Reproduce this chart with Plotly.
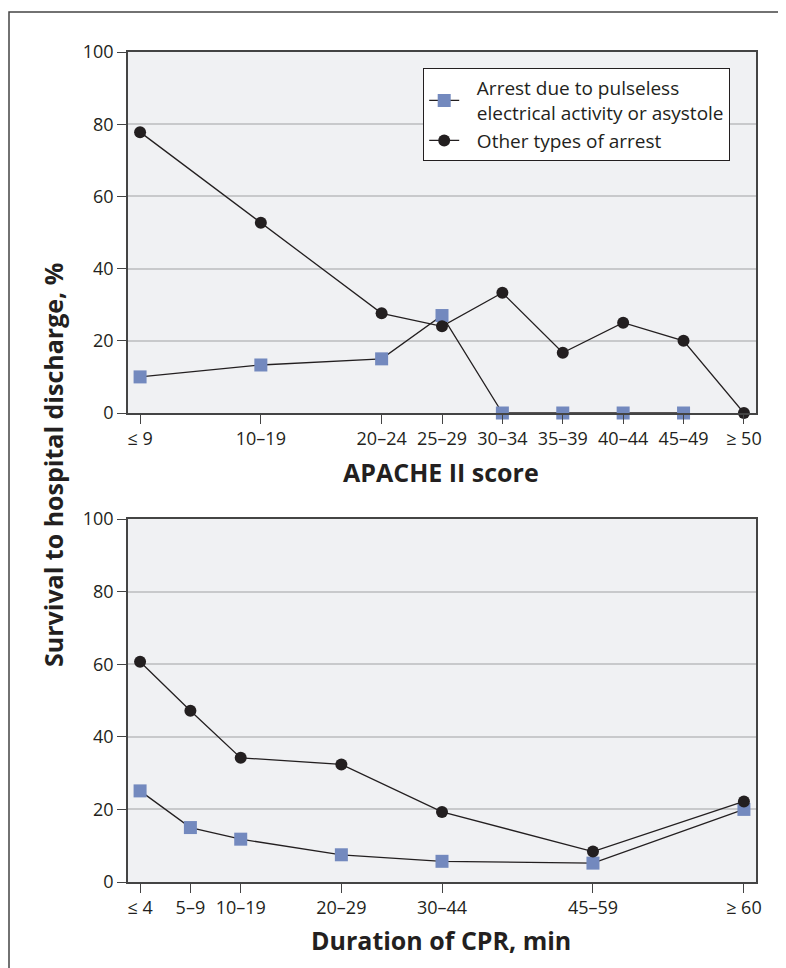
import plotly.graph_objects as go

# ---- data ----
apache_labels = ["≤ 9", "10–19", "20–24", "25–29", "30–34", "35–39", "40–44", "45–49", "≥ 50"]
apache_pos = [0, 2, 4, 5, 6, 7, 8, 9, 10]
apache_pea = [10, 13.3, 15, 27, 0, 0, 0, 0, None]
apache_other = [77.8, 52.7, 27.6, 24, 33.3, 16.7, 25, 20, 0]

cpr_labels = ["≤ 4", "5–9", "10–19", "20–29", "30–44", "45–59", "≥ 60"]
cpr_pos = [0, 1, 2, 4, 6, 9, 12]
cpr_pea = [25.1, 15, 11.8, 7.5, 5.7, 5.2, 20]
cpr_other = [60.7, 47.2, 34.2, 32.4, 19.3, 8.4, 22.2]

PAD = "\u2002\u2009"
name_pea = PAD + "Arrest due to pulseless<br>" + PAD + "electrical activity or asystole"
name_other = PAD + "Other types of arrest"

W, H = 786, 968
OFF = 8  # page body margin
ML, MR, MT, MB = 10, 10, 25, 10
PW, PH = W - ML - MR, H - MT - MB


def px(x):
    return (x - OFF - ML) / PW


def py(y):
    return 1 - (y - OFF - MT) / PH


INK = "#231F20"
BLUE = "#7389BE"
FONT = "Open Sans"

fig = go.Figure()


def add(xs, ys, xa, ya, show):
    fig.add_trace(go.Scatter(x=xs, y=ys[0], xaxis=xa, yaxis=ya, mode="lines+markers",
                             name=name_pea, showlegend=show, cliponaxis=False,
                             line=dict(color=INK, width=1.3),
                             marker=dict(symbol="square", size=13, color=BLUE,
                                         line=dict(width=0))))
    fig.add_trace(go.Scatter(x=xs, y=ys[1], xaxis=xa, yaxis=ya, mode="lines+markers",
                             name=name_other, showlegend=show, cliponaxis=False,
                             line=dict(color=INK, width=1.3),
                             marker=dict(symbol="circle", size=12, color=INK,
                                         line=dict(width=0))))


add(apache_pos, (apache_pea, apache_other), "x", "y", True)
add(cpr_pos, (cpr_pea, cpr_other), "x2", "y2", False)

xdom = [px(128), px(756)]
common_axis = dict(showline=True, mirror=True, linecolor="#444", linewidth=1.5,
                   ticks="outside", ticklen=9, tickwidth=1.3, tickcolor="#444",
                   tickfont=dict(family=FONT, size=18, color=INK), zeroline=False,
                   automargin=False)

fig.update_layout(
    width=W, height=H,
    margin=dict(l=ML, r=MR, t=MT, b=MB, autoexpand=False),
    paper_bgcolor="white", plot_bgcolor="#F0F1F3",
    font=dict(family=FONT, color=INK),
    xaxis=dict(domain=xdom, anchor="y", range=[-0.2, 10.2], tickmode="array",
               tickvals=apache_pos, ticktext=apache_labels, showgrid=False, **common_axis),
    yaxis=dict(domain=[py(413), py(52)], anchor="x", range=[0, 100],
               tickvals=[0, 20, 40, 60, 80, 100], showgrid=True, gridcolor="#C8C9CB",
               gridwidth=1.5, **common_axis),
    xaxis2=dict(domain=xdom, anchor="y2", range=[-0.24, 12.24], tickmode="array",
                tickvals=cpr_pos, ticktext=cpr_labels, showgrid=False, **common_axis),
    yaxis2=dict(domain=[py(882), py(519)], anchor="x2", range=[0, 100],
                tickvals=[0, 20, 40, 60, 80, 100], showgrid=True, gridcolor="#C8C9CB",
                gridwidth=1.5, **common_axis),
    legend=dict(x=px(423), y=py(68), xanchor="left", yanchor="top",
                bgcolor="white", bordercolor=INK, borderwidth=1.2,
                font=dict(family=FONT, size=19, color=INK), itemwidth=30,
                tracegroupgap=2),
    showlegend=True,
)

title_font = dict(family=FONT, size=25, color=INK)
fig.add_annotation(text="<b>APACHE II score</b>", x=px(441), y=py(472), xref="paper",
                   yref="paper", xanchor="center", yanchor="middle", showarrow=False,
                   font=title_font)
fig.add_annotation(text="<b>Duration of CPR, min</b>", x=px(441), y=py(940), xref="paper",
                   yref="paper", xanchor="center", yanchor="middle", showarrow=False,
                   font=title_font)
fig.add_annotation(text="<b>Survival to hospital discharge, %</b>", x=px(53), y=py(465),
                   xref="paper", yref="paper", xanchor="center", yanchor="middle",
                   showarrow=False, textangle=-90, font=title_font)

# outer frame (right and bottom edges beyond the page)
fig.add_shape(type="rect", xref="paper", yref="paper", x0=px(9), x1=px(W + 20),
              y0=py(H + 20), y1=py(12), line=dict(color="#444", width=1.5), layer="below")

fig.write_html("out.html")
